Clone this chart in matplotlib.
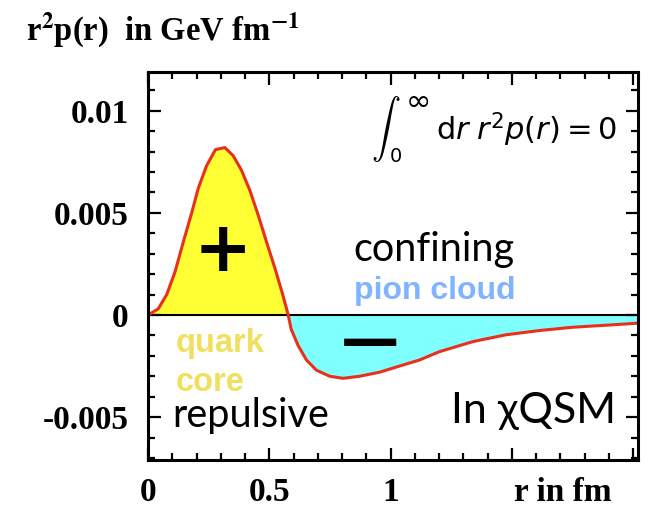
import numpy as np
import matplotlib.pyplot as plt
from matplotlib.ticker import MultipleLocator

# r^2 p(r) pressure distribution in the chiral quark soliton model
r = [0.0, 0.042, 0.077, 0.111, 0.146, 0.18, 0.207, 0.241, 0.278, 0.317,
     0.351, 0.385, 0.42, 0.454, 0.488, 0.523, 0.557, 0.578, 0.59, 0.619,
     0.653, 0.694, 0.749, 0.804, 0.872, 0.955, 1.037, 1.12, 1.2, 1.284,
     1.34, 1.475, 1.613, 1.75, 1.887, 2.02]
r2p = [0.0, 0.0003, 0.001, 0.0021, 0.0036, 0.005, 0.0062, 0.0073, 0.0081,
       0.0082, 0.0078, 0.0071, 0.0061, 0.0049, 0.0036, 0.0023, 0.00093, 0.0,
       -0.00069, -0.0015, -0.0022, -0.0027, -0.003, -0.0031, -0.003,
       -0.0028, -0.0025, -0.0022, -0.0018, -0.0015, -0.0013, -0.00097,
       -0.00076, -0.0006, -0.0005, -0.0004]

yticks = [-0.005, 0, 0.005, 0.01]
ytick_labels = ['-0.005', '0', '0.005', '0.01']
xticks = [0, 0.5, 1, 1.5, 2]
xtick_labels = ['0', '0.5', '1', '', '']

r = np.array(r)
r2p = np.array(r2p)

fig = plt.figure(figsize=(6.59, 5.09), dpi=100)
ax = fig.add_axes([0.2246, 0.0963, 0.7436, 0.7622])

ax.fill_between(r, r2p, 0, where=r2p >= 0, interpolate=True, color='#ffff33', lw=0)
ax.fill_between(r, r2p, 0, where=r2p <= 0, interpolate=True, color='#80ffff', lw=0)
ax.axhline(0, color='black', lw=1.5)
ax.plot(r, r2p, color='#e8301c', lw=2.2, solid_joinstyle='round')

ax.set_xlim(0, 2.02)
ax.set_ylim(-0.0071, 0.0119)

ax.set_xticks(xticks)
ax.set_xticklabels(xtick_labels)
ax.set_yticks(yticks)
ax.set_yticklabels(ytick_labels)
ax.xaxis.set_minor_locator(MultipleLocator(0.1))
ax.yaxis.set_minor_locator(MultipleLocator(0.001))
ax.tick_params(which='both', direction='in', top=True, right=True, width=1.6)
ax.tick_params(which='major', length=9)
ax.tick_params(which='minor', length=5)
ax.tick_params(axis='x', pad=12)
ax.tick_params(axis='y', pad=14)
for lab in ax.get_xticklabels() + ax.get_yticklabels():
    lab.set_family('Liberation Serif')
    lab.set_fontweight('bold')
    lab.set_fontsize(24)
for s in ax.spines.values():
    s.set_linewidth(2.2)

# axis titles
fig.text(0.040, 0.94, r'r$^{\mathbf{2}}$p(r)  in GeV fm$^{\mathbf{-1}}$',
         family='Liberation Serif', fontweight='bold', fontsize=23.5,
         math_fontfamily='stix', ha='left', va='center')
ax.text(1.71, -0.0087, 'r in fm', family='Liberation Serif', fontweight='bold',
        fontsize=24, ha='center', va='center')

# sum rule: big integral sign with limits, then the integrand
ax.text(0.486, 0.853, r'$\int$', transform=ax.transAxes, math_fontfamily='cm',
        fontsize=21, ha='center', va='center')
ax.text(0.549, 0.925, r'$\infty$', transform=ax.transAxes, math_fontfamily='dejavusans',
        fontsize=22, ha='center', va='center')
ax.text(0.506, 0.781, '0', transform=ax.transAxes, family='DejaVu Sans',
        fontsize=14, ha='center', va='center')
ax.text(0.957, 0.851, r'$\mathrm{d}r\;r^2p(r) = 0$', transform=ax.transAxes,
        math_fontfamily='dejavusans', fontsize=22, ha='right', va='center')

# annotations
ax.text(0.31, 0.0031, '+', fontsize=50, fontweight='bold', family='DejaVu Sans',
        ha='center', va='center')
ax.text(0.914, -0.0013, '\u2014', fontsize=42, fontweight='bold', family='DejaVu Sans',
        ha='center', va='center')
ax.text(1.18, 0.0032, 'confining', family='Lato', fontsize=28.5,
        ha='center', va='center')
ax.text(1.18, 0.0012, 'pion cloud', family='Liberation Sans', fontweight='bold',
        fontsize=23, color='#80b4ff', ha='center', va='center')
ax.text(0.115, -0.0014, 'quark', family='Liberation Sans', fontweight='bold',
        fontsize=23.5, color='#f0e060', ha='left', va='center')
ax.text(0.115, -0.0033, 'core', family='Liberation Sans', fontweight='bold',
        fontsize=23.5, color='#f0e060', ha='left', va='center')
ax.text(0.10, -0.0049, 'repulsive', family='Lato', fontsize=28.5,
        ha='left', va='center')
ax.text(1.93, -0.0047, 'In \u03c7QSM', family='Lato', fontsize=31,
        ha='right', va='center')

fig.savefig('out.png', dpi=100)
